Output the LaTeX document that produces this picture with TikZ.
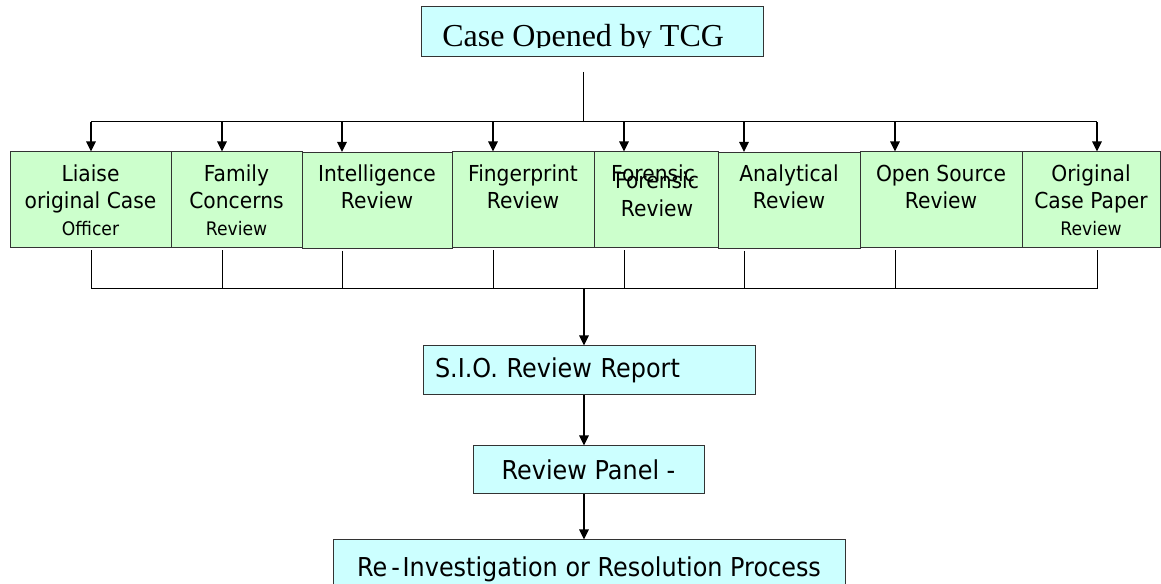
\documentclass[tikz,border=0pt]{standalone}
\usepackage{fontspec}
\setmainfont{DejaVu Sans}[FakeStretch=0.92]
\newfontfamily\timesfont{Liberation Serif}
\usetikzlibrary{arrows.meta,positioning}

\definecolor{boxgreen}{HTML}{CCFFCC}
\definecolor{boxcyan}{HTML}{CCFFFF}

\tikzset{
  greenbox/.style={draw=black!80, fill=boxgreen, line width=0.75pt,
    minimum height=72pt, inner sep=0pt, align=center,
    font=\fontsize{16.5}{20.25}\selectfont},
  cyanbox/.style={draw=black!80, fill=boxcyan, line width=0.75pt,
    inner sep=0pt, align=center, font=\fontsize{19.5}{24}\selectfont},
  feed/.style={-{Triangle[width=7pt,length=7.5pt]}, line width=1.5pt},
  link/.style={line width=0.75pt},
}
\newcommand{\smallline}[1]{{\fontsize{14}{20.25}\selectfont #1}}

\begin{document}
\begin{tikzpicture}[x=0.75pt,y=-0.75pt]
  \useasboundingbox (0,0) rectangle (1161,584);
  \clip (0,0) rectangle (1161,584);

  % opening case
  \node[cyanbox, minimum width=256.5pt, minimum height=37.5pt] (tcg) at (592,32) {};
  \begin{scope}
    \clip (421,7) rectangle (763,48);
    \node[anchor=base west, inner sep=0pt, font=\timesfont\fontsize{24}{28}\selectfont]
      (tcgtxt) at (442,47) {Case Opened by TCG};
  \end{scope}

  % the eight reviews
  \node[greenbox, minimum width=120.75pt] (liaise)   at (90.5,200) {Liaise\\original Case\\\smallline{Officer}};
  \node[greenbox, minimum width=98.25pt]  (family)   at (236.5,200) {Family\\Concerns\\\smallline{Review}};
  \node[greenbox, minimum width=112.5pt]  (intel)    at (377,200.5) {Intelligence\\Review\\\mbox{}};
  \node[greenbox, minimum width=106.5pt]  (finger)   at (523,200) {Fingerprint\\Review\\\mbox{}};
  \node[greenbox, minimum width=93pt]     (forensic) at (656,200) {};
  \node[font=\fontsize{16.5}{21}\selectfont, align=center, inner sep=0pt]
    (forentxt) at (657,194) {Forensic\\Review};
  \node[font=\fontsize{16.5}{21}\selectfont, inner sep=0pt]
    (forenold) at (653,173) {Forensic};
  \node[greenbox, minimum width=106.5pt]  (analyt)   at (789,200.5) {Analytical\\Review\\\mbox{}};
  \node[greenbox, minimum width=121.5pt]  (opensrc)  at (941,200) {Open Source\\Review\\\mbox{}};
  \node[greenbox, minimum width=103.5pt]  (origcase) at (1091,200) {Original\\Case Paper\\\smallline{Review}};

  % report, panel, outcome
  \node[cyanbox, minimum width=249pt, minimum height=36.75pt, inner xsep=9pt,
    text width=231pt, align=left] (sio) at (589,370.5) {S.I.O. Review Report};
  \node[cyanbox, minimum width=173.25pt, minimum height=36pt] (panel) at (588.5,470) {Review Panel -};
  \node[cyanbox, minimum width=384pt, minimum height=43.5pt] (resol) at (589,569)
    {Re\kern3pt-\kern2pt Investigation or Resolution Process};

  % fan out
  \coordinate (drop) at (583,72);
  \coordinate (hub)  at (583,122);
  \coordinate (join) at (584,289);
  \draw[link] (drop) -- (hub);
  \foreach \name/\x in {liaise/91, family/222, intel/342, finger/493,
                        forensic/624, analyt/744, opensrc/895, origcase/1097} {
    \coordinate (top\name) at (\x,122);
    \coordinate (bot\name) at (\x,289);
    \draw[feed] (top\name) -- (top\name |- \name.north);
    \draw[link] ([yshift=-1.5pt]\name.south -| bot\name) -- (bot\name);
  }
  \draw[link] (topliaise) -- (toporigcase);
  \draw[link] (botliaise) -- (botorigcase);

  % gather in
  \draw[feed] (join) -- (join |- sio.north);
  \draw[feed] (sio.south -| join) -- (panel.north -| join);
  \draw[feed] (panel.south -| join) -- (resol.north -| join);
\end{tikzpicture}
\end{document}
